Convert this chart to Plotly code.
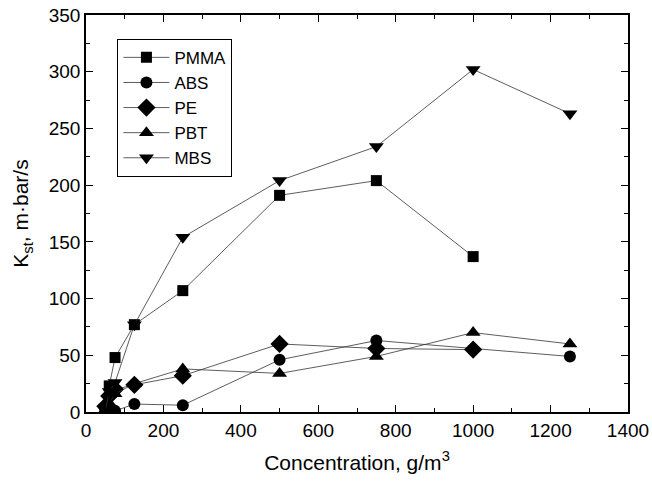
import plotly.graph_objects as go

# Data (concentration g/m^3, Kst m·bar/s)
pmma_x = [50, 60, 75, 125, 250, 500, 750, 1000]
pmma_y = [3, 23, 48, 77, 107, 191, 204, 137]

abs_x = [50, 60, 75, 125, 250, 500, 750, 1250]
abs_y = [1, 2, 1, 7, 6, 46, 63, 49]

pe_x = [50, 60, 75, 125, 250, 500, 750, 1000]
pe_y = [5, 14, 20, 24, 32, 60, 56, 55]

pbt_x = [50, 60, 75, 125, 250, 500, 750, 1000, 1250]
pbt_y = [2, 8, 16, 25, 38, 34, 49, 70, 60]

mbs_x = [50, 60, 75, 125, 250, 500, 750, 1000, 1250]
mbs_y = [1, 18, 26, 77, 154, 204, 234, 302, 263]

series = [
    ("PMMA", pmma_x, pmma_y, "square", 11),
    ("ABS", abs_x, abs_y, "circle", 12),
    ("PE", pe_x, pe_y, "diamond", 14),
    ("PBT", pbt_x, pbt_y, "triangle-up", 13),
    ("MBS", mbs_x, mbs_y, "triangle-down", 13),
]

fig = go.Figure()
for name, xs, ys, sym, sz in series:
    fig.add_trace(go.Scatter(
        x=xs, y=ys, name=name, mode="lines+markers",
        line=dict(color="#333333", width=0.8),
        marker=dict(symbol=sym, size=sz, color="black"),
    ))

font = "Liberation Sans, Arial, sans-serif"
axis_common = dict(
    showline=True, linecolor="black", linewidth=1.5, mirror="ticks",
    ticks="inside", ticklen=7, tickwidth=1.2, tickcolor="black",
    showgrid=False, zeroline=False, automargin=False,
    tickfont=dict(family=font, size=19, color="black"),
)

fig.update_layout(
    width=652, height=482,
    margin=dict(l=86, r=24, t=15, b=70),
    paper_bgcolor="white", plot_bgcolor="white",
    font=dict(family=font, size=18, color="black"),
    xaxis=dict(range=[0, 1400], dtick=200,
               minor=dict(dtick=100, ticks="inside", ticklen=4, tickcolor="black"),
               title=dict(text="Concentration, g/m<sup>3</sup>", font=dict(size=21), standoff=16),
               **axis_common),
    yaxis=dict(range=[0, 350], dtick=50,
               minor=dict(dtick=25, ticks="inside", ticklen=4, tickcolor="black"),
               title=dict(text="K<sub>st</sub>, m·bar/s", font=dict(size=21), standoff=14),
               **axis_common),
    legend=dict(x=0.058, y=0.94, xanchor="left", yanchor="top",
                bordercolor="black", borderwidth=1, bgcolor="white",
                font=dict(family=font, size=17), tracegroupgap=0,
                itemwidth=46, entrywidth=128, entrywidthmode="pixels"),
    showlegend=True,
)

fig.write_html("out.html")
